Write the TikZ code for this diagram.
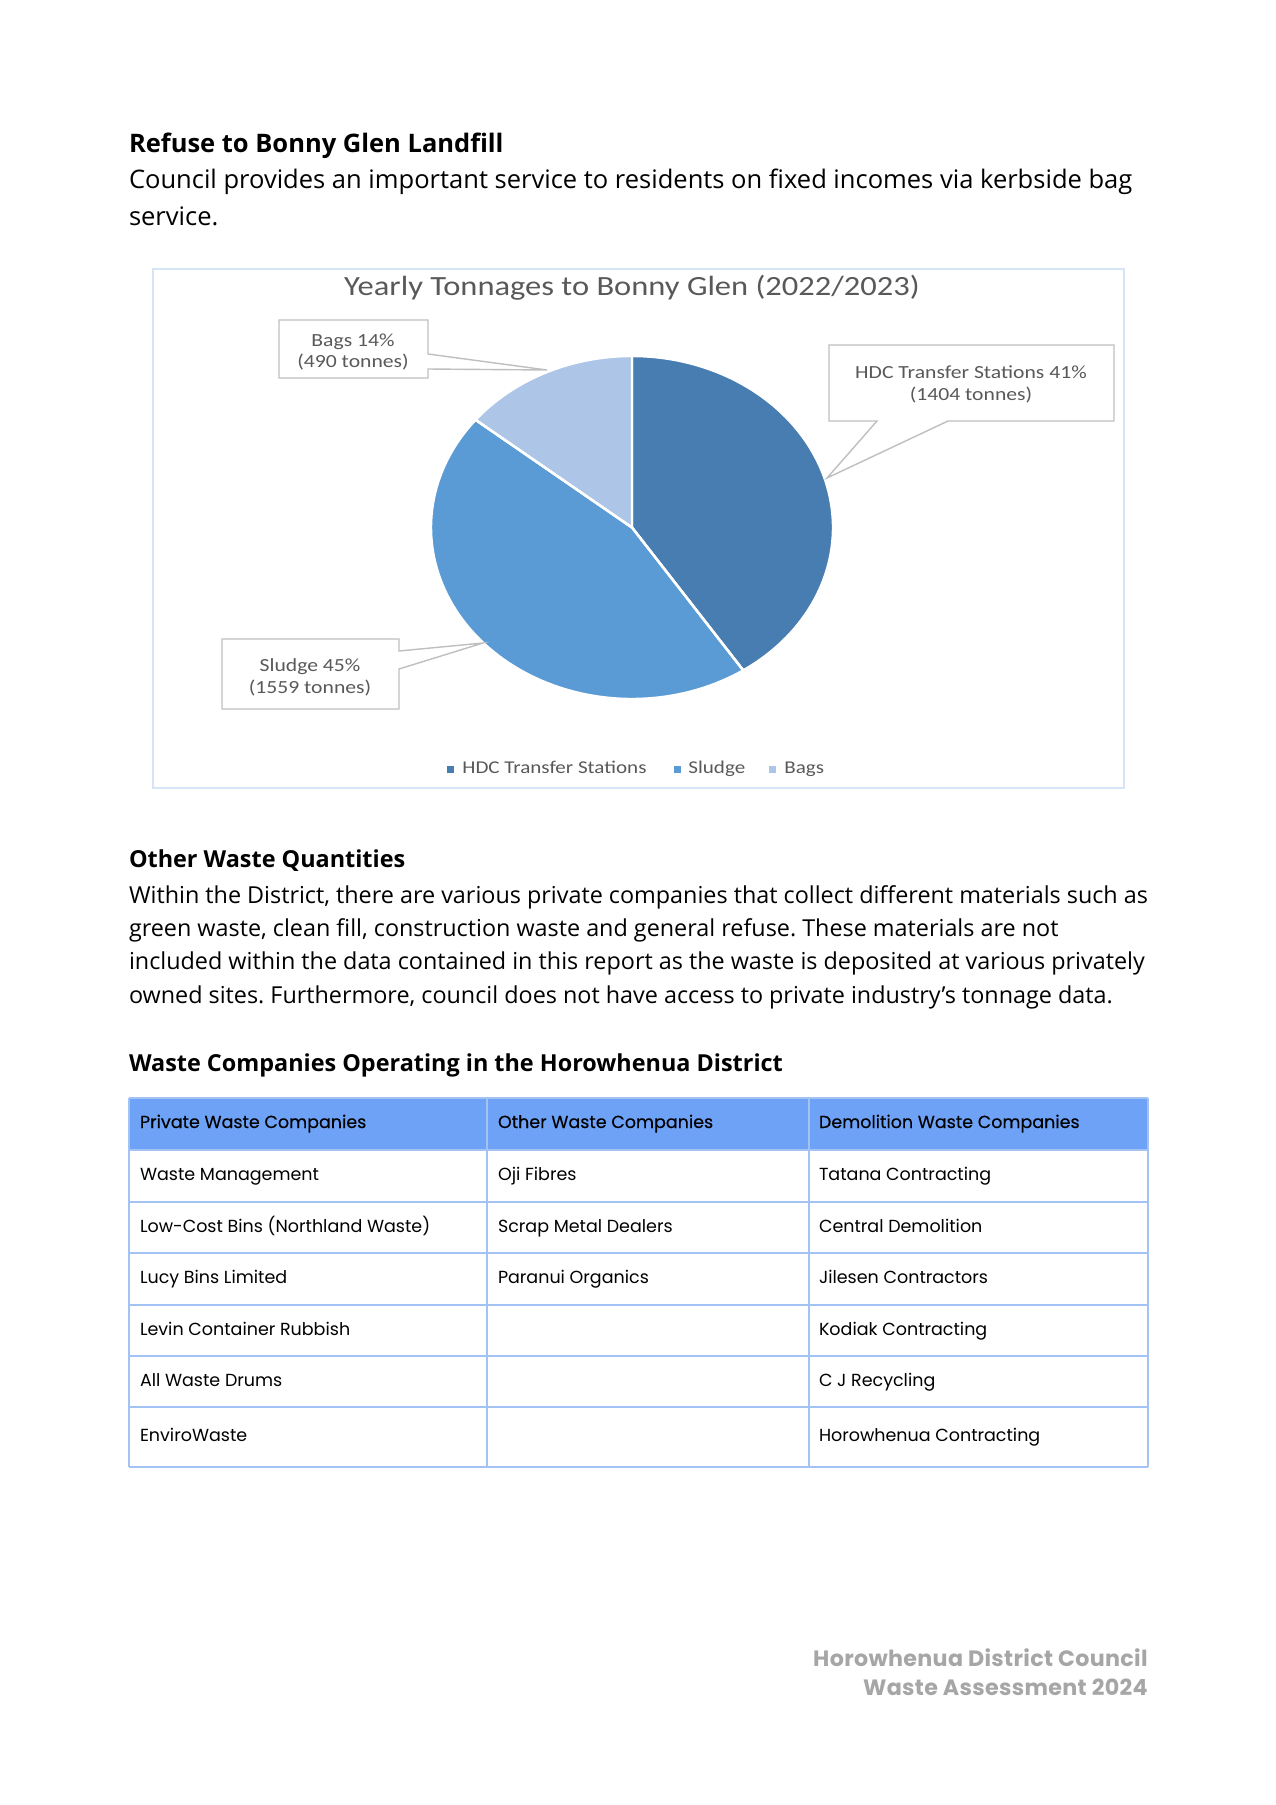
\documentclass[tikz,border=0pt]{standalone}
\usepackage{fontspec}
\usepackage{graphicx}
\setmainfont{Open Sans}
\newfontfamily\chartfont{Carlito}
\newfontfamily\popfont{Poppins}
\newfontfamily\popmed[FakeBold=0.25]{Poppins}
\newfontfamily\popfoot[LetterSpace=1.5]{Poppins}
\definecolor{hdc}{HTML}{477DB0}
\definecolor{sludge}{HTML}{5B9BD5}
\definecolor{bags}{HTML}{ADC5E6}
\definecolor{chartborder}{HTML}{D5E5F7}
\definecolor{callout}{HTML}{BFBFBF}
\definecolor{charttext}{HTML}{595959}
\definecolor{tabline}{HTML}{A3C3F5}
\definecolor{tabhead}{HTML}{6EA2F6}
\definecolor{footgray}{HTML}{A6A6A6}
\newcommand{\sx}[1]{\scalebox{1.17}[1]{#1}}
\frenchspacing
\begin{document}
\begin{tikzpicture}[x=0.5pt,y=-0.5pt,
  txt/.style={anchor=base west, inner sep=0pt, outer sep=0pt},
  headingA/.style={txt, font=\fontsize{12.75}{15}\selectfont\bfseries},
  heading/.style={txt, font=\fontsize{11.7}{14}\selectfont\bfseries},
  bodyA/.style={txt, font=\fontsize{12.76}{15}\selectfont},
  body/.style={txt, font=\fontsize{11.68}{14}\selectfont},
  ctitle/.style={anchor=base, inner sep=0pt, text=charttext, font=\chartfont\fontsize{13.9}{16}\selectfont},
  clabel/.style={anchor=base, inner sep=0pt, text=charttext, font=\chartfont\fontsize{9.25}{11}\selectfont},
  clegend/.style={anchor=base west, inner sep=0pt, text=charttext, font=\chartfont\fontsize{9}{10}\selectfont},
  callbox/.style={draw=callout, line width=0.7pt, fill=white},
  slice/.style={draw=white, line width=1.2pt, line join=round},
  legsq/.style={minimum size=3.5pt, inner sep=0pt},
  cell/.style={txt, font=\popfont\fontsize{8.75}{11}\selectfont},
  hcell/.style={txt, font=\popmed\fontsize{8.75}{11}\selectfont},
  tabrule/.style={draw=tabline, line width=1pt},
  foot/.style={anchor=base east, inner sep=0pt, text=footgray, font=\popfoot\bfseries\fontsize{11.1}{13}\selectfont}
]
\useasboundingbox[fill=white] (0,0) rectangle (1275,1805);

% ---- Section 1
\node[headingA] (h1) at (129,152) {Refuse to Bonny Glen Landfill};
\node[bodyA] (p1a) at (129,188) {Council provides an important service to residents on fixed incomes via kerbside bag};
\node[bodyA] (p1b) at (129,225) {service.};

% ---- Chart
\draw[chartborder, line width=1pt] (153,269) rectangle (1124,788);
\node[ctitle] (ct) at (632,295) {\sx{Yearly Tonnages to Bonny Glen (2022/2023)}};

\coordinate (pc) at (632,527.5);
\fill[hdc, slice] (pc) -- plot[domain=-56.4:90, samples=80] ({632+201*cos(\x)},{527.5-171.5*sin(\x)}) -- cycle;
\fill[sludge, slice] (pc) -- plot[domain=141.1:303.6, samples=90] ({632+201*cos(\x)},{527.5-171.5*sin(\x)}) -- cycle;
\fill[bags, slice] (pc) -- plot[domain=90:141.1, samples=40] ({632+201*cos(\x)},{527.5-171.5*sin(\x)}) -- cycle;
\draw[white, line width=1.2pt] (pc) -- ({632+201*cos(90)},{527.5-171.5*sin(90)});
\draw[white, line width=1.2pt] (pc) -- ({632+201*cos(-56.4)},{527.5-171.5*sin(-56.4)});
\draw[white, line width=1.2pt] (pc) -- ({632+201*cos(141.1)},{527.5-171.5*sin(141.1)});

% callouts
\draw[callbox] (279,320) -- (428,320) -- (428,354) -- (547,370) -- (428,369) -- (428,378) -- (279,378) -- cycle;
\node[clabel] (bags1) at (353,346) {\sx{Bags 14\%}};
\node[clabel] (bags2) at (353,367) {\sx{(490 tonnes)}};

\draw[callbox] (829,345) -- (1114,345) -- (1114,421) -- (948,421) -- (827,478) -- (877,421) -- (829,421) -- cycle;
\node[clabel] (hdc1) at (971,378) {\sx{HDC Transfer Stations 41\%}};
\node[clabel] (hdc2) at (971,400) {\sx{(1404 tonnes)}};

\draw[callbox] (222,639) -- (399,639) -- (399,651) -- (483,643) -- (399,669) -- (399,709) -- (222,709) -- cycle;
\node[clabel] (sl1) at (310,671) {\sx{Sludge 45\%}};
\node[clabel] (sl2) at (310,693) {\sx{(1559 tonnes)}};

% legend
\node[legsq, fill=hdc] (lq1) at (450.5,769) {};
\node[clegend] (lt1) at (462,773) {\sx{HDC Transfer Stations}};
\node[legsq, fill=sludge] (lq2) at (677,769) {};
\node[clegend] (lt2) at (688,773) {\sx{Sludge}};
\node[legsq, fill=bags] (lq3) at (772.5,769) {};
\node[clegend] (lt3) at (784,773) {\sx{Bags}};

% ---- Section 2
\node[heading] (h2) at (129,867) {Other Waste Quantities};
\node[body] (p2a) at (129,903) {Within the District, there are various private companies that collect different materials such as};
\node[body] (p2b) at (129,936) {green waste, clean fill, construction waste and general refuse. These materials are not};
\node[body] (p2c) at (129,969) {included within the data contained in this report as the waste is deposited at various privately};
\node[body] (p2d) at (129,1003) {owned sites. Furthermore, council does not have access to private industry’s tonnage data.};

\node[heading] (h3) at (129,1071) {Waste Companies Operating in the Horowhenua District};

% ---- Table
\fill[tabhead] (129,1098) rectangle (1148,1150);
\foreach \yy in {1098,1150,1202,1253,1305,1356,1407,1467}
  \draw[tabrule] (129,\yy) -- (1148,\yy);
\foreach \xx in {129,487,809,1148}
  \draw[tabrule] (\xx,1098) -- (\xx,1467);

\node[hcell] (t00) at (140,1128) {Private Waste Companies};
\node[hcell] (t01) at (498,1128) {Other Waste Companies};
\node[hcell] (t02) at (819,1128) {Demolition Waste Companies};

\node[cell] (t10) at (140,1180) {Waste Management};
\node[cell] (t11) at (498,1180) {Oji Fibres};
\node[cell] (t12) at (819,1180) {Tatana Contracting};

\node[cell] (t20) at (140,1232) {Low-Cost Bins (Northland Waste)};
\node[cell] (t21) at (498,1232) {Scrap Metal Dealers};
\node[cell] (t22) at (819,1232) {Central Demolition};

\node[cell] (t30) at (140,1283) {Lucy Bins Limited};
\node[cell] (t31) at (498,1283) {Paranui Organics};
\node[cell] (t32) at (819,1283) {Jilesen Contractors};

\node[cell] (t40) at (140,1335) {Levin Container Rubbish};
\node[cell] (t42) at (819,1335) {Kodiak Contracting};

\node[cell] (t50) at (140,1386) {All Waste Drums};
\node[cell] (t52) at (819,1386) {C J Recycling};

\node[cell] (t60) at (140,1441) {EnviroWaste};
\node[cell] (t62) at (819,1441) {Horowhenua Contracting};

% ---- Footer
\node[foot] (f1) at (1148,1666) {Horowhenua District Council};
\node[foot] (f2) at (1148,1695) {Waste Assessment 2024};
\end{tikzpicture}
\end{document}
